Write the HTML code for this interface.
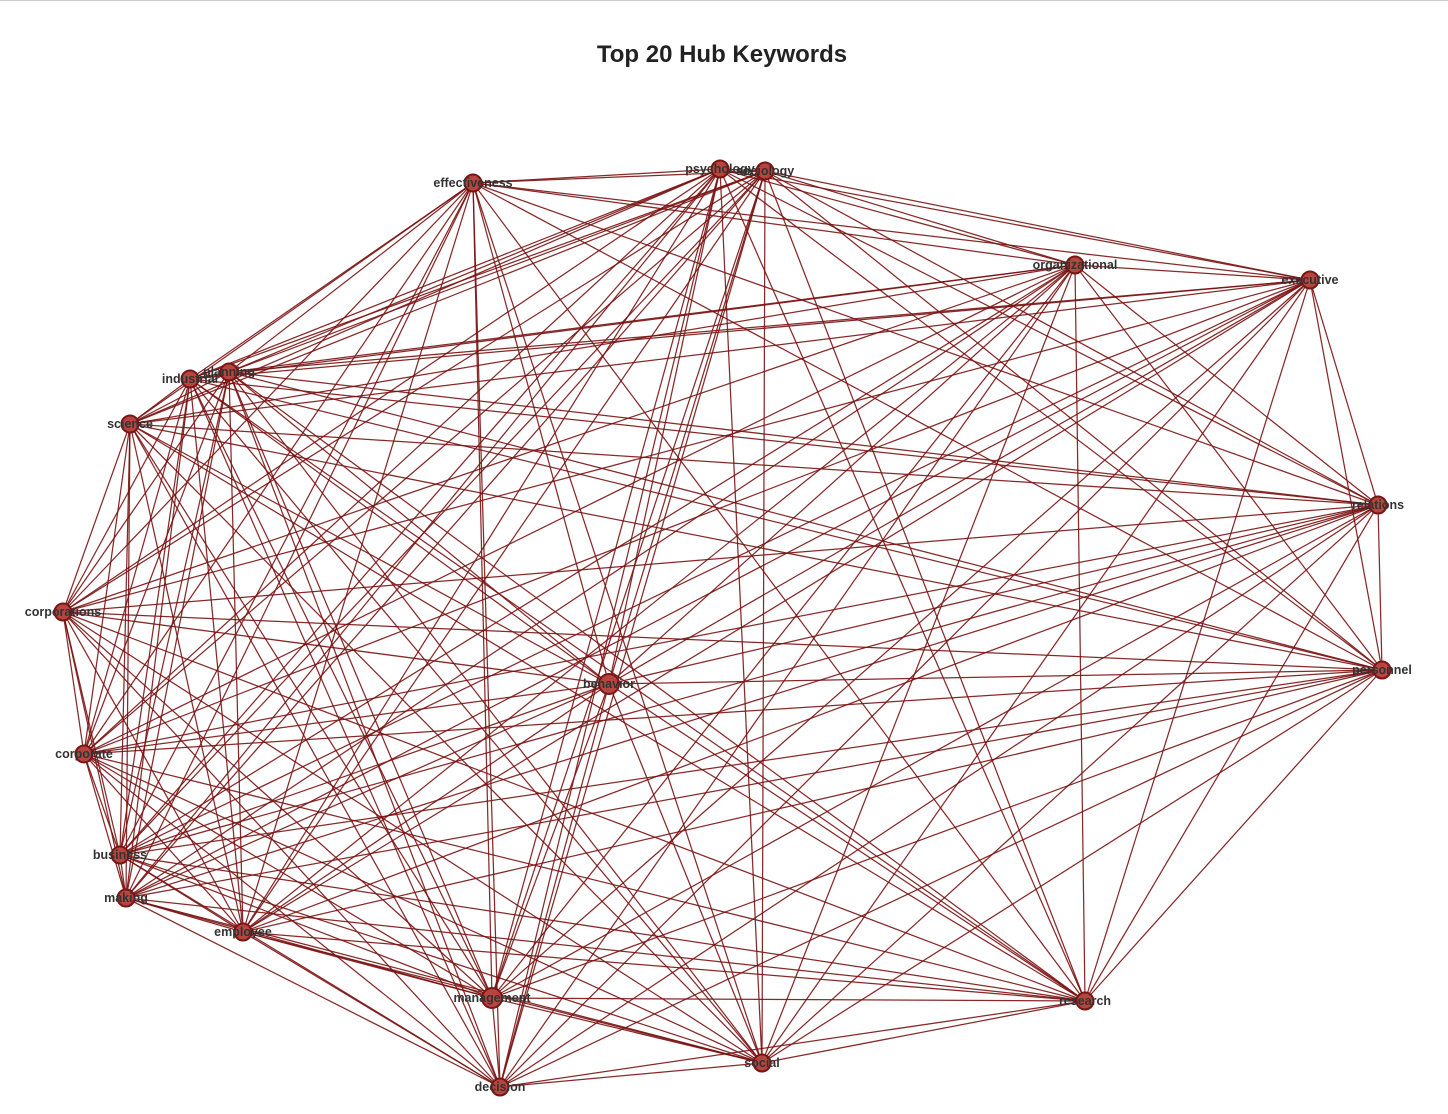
<!DOCTYPE html>
<html><head><meta charset="utf-8"><style>
html,body{margin:0;padding:0;background:#fff;}
svg{display:block;}
</style></head><body>
<svg id="chart" width="1448" height="1114" xmlns="http://www.w3.org/2000/svg">
<rect x="0" y="0" width="1448" height="1114" fill="#fff"/>
<line x1="0" y1="0.5" x2="1448" y2="0.5" stroke="#ccc" stroke-width="1"/>
<text x="722" y="62" text-anchor="middle" font-family="Liberation Sans, sans-serif" font-weight="bold" font-size="24" fill="#222">Top 20 Hub Keywords</text>
<g id="edges"></g><g id="nodes"></g><g id="labels"></g>
</svg>
<script>
const names=["psychology","sociology","effectiveness","organizational","executive","industrial","planning","science","relations","corporations","behavior","personnel","corporate","business","making","employee","management","research","social","decision"];
const xs=[720,765,473,1075,1310,190,229,130,1378,63,609,1382,84,120,126,243,492,1085,762,500];
const ys=[169,171,183,265,280,379,372,424,505,612,684,670,754,855,898,932,998,1001,1063,1087];
const ns="http://www.w3.org/2000/svg";
const eg=document.getElementById('edges'),ng=document.getElementById('nodes'),lg=document.getElementById('labels');
for(let i=0;i<names.length;i++){for(let j=i+1;j<names.length;j++){
 const l=document.createElementNS(ns,'line');
 l.setAttribute('x1',xs[i]);l.setAttribute('y1',ys[i]);l.setAttribute('x2',xs[j]);l.setAttribute('y2',ys[j]);
 l.setAttribute('stroke','#7a1212');l.setAttribute('stroke-width','1.25');l.setAttribute('stroke-opacity','0.9');
 
 
 eg.appendChild(l);
}}
names.forEach((n,i)=>{
 const c=document.createElementNS(ns,'circle');
 c.setAttribute('cx',xs[i]);c.setAttribute('cy',ys[i]);c.setAttribute('r',n==='management'||n==='behavior'?10:8.5);
 c.setAttribute('fill','#b5453f');c.setAttribute('stroke','#7a1515');c.setAttribute('stroke-width','2');
 
 
 ng.appendChild(c);
 const t=document.createElementNS(ns,'text');
 t.setAttribute('x',xs[i]);t.setAttribute('y',ys[i]+4);t.setAttribute('text-anchor','middle');
 t.setAttribute('font-family','Liberation Sans, sans-serif');t.setAttribute('font-weight','bold');t.setAttribute('font-size','12.5');t.setAttribute('fill','#333');
 t.textContent=n;
 
 
 lg.appendChild(t);
});
</script>
</body></html>
